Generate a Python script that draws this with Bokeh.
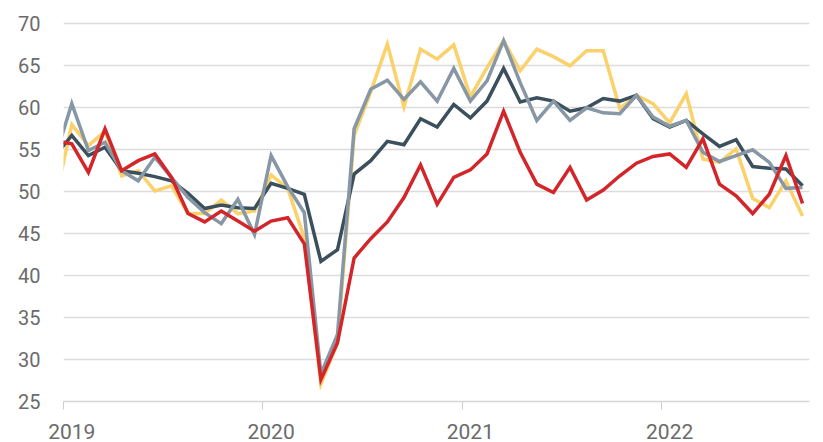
from bokeh.plotting import figure
from bokeh.models import Range1d, FixedTicker, ColumnDataSource
from bokeh.embed import file_html
from bokeh.resources import INLINE

# Monthly values, Dec 2018 .. Sep 2022 (month index -1 .. 44, plotted at mid-month)
month_index = list(range(-1, 45))

dark = [54.3, 56.7, 54.3, 55.3, 52.5, 52.2, 51.8, 51.3, 49.8, 48.0, 48.4, 48.1, 48.0,
        51.0, 50.4, 49.7, 41.7, 43.1, 52.1, 53.7, 56.0, 55.6, 58.7, 57.7, 60.4,
        58.8, 60.8, 64.7, 60.7, 61.2, 60.8, 59.6, 60.0, 61.1, 60.8, 61.5, 58.7,
        57.7, 58.5, 56.9, 55.4, 56.2, 53.0, 52.8, 52.7, 50.7]

gray = [54.1, 60.5, 54.9, 55.9, 52.5, 51.3, 54.1, 51.7, 49.3, 47.5, 46.2, 49.1, 44.9,
        54.3, 50.6, 47.5, 28.3, 33.0, 57.5, 62.2, 63.3, 61.0, 63.1, 60.8, 64.7,
        60.8, 63.2, 68.0, 63.0, 58.5, 60.8, 58.5, 60.0, 59.4, 59.3, 61.5, 58.9,
        57.8, 58.5, 54.7, 53.6, 54.3, 55.0, 53.5, 50.4, 50.5]

yellow = [49.0, 58.0, 55.5, 57.2, 51.9, 52.5, 50.1, 50.7, 47.4, 47.4, 49.0, 47.4, 47.7,
          52.0, 50.4, 44.5, 27.1, 32.0, 56.7, 61.9, 67.6, 60.1, 67.0, 65.8, 67.5,
          61.3, 64.8, 68.0, 64.4, 67.0, 66.1, 65.0, 66.8, 66.8, 59.9, 61.5, 60.5,
          58.2, 61.7, 53.9, 53.5, 55.1, 49.2, 48.1, 51.3, 47.1]

red = [56.1, 55.7, 52.3, 57.5, 52.5, 53.7, 54.5, 51.7, 47.4, 46.4, 47.7, 46.5, 45.3,
       46.5, 46.9, 43.8, 27.6, 32.0, 42.1, 44.4, 46.4, 49.3, 53.2, 48.5, 51.7,
       52.6, 54.5, 59.6, 54.7, 50.9, 49.9, 52.9, 49.0, 50.2, 51.9, 53.4, 54.2,
       54.5, 52.9, 56.3, 50.9, 49.5, 47.4, 49.7, 54.3, 48.6]

year_labels = ["2019", "2020", "2021", "2022"]
year_starts = [0, 12, 24, 36]
y_ticks = [25, 30, 35, 40, 45, 50, 55, 60, 65, 70]

x_mid = [m + 0.5 for m in month_index]
src = ColumnDataSource(dict(x=x_mid, dark=dark, gray=gray, yellow=yellow, red=red))

p = figure(width=823, height=442, output_backend="svg", toolbar_location=None,
           x_range=Range1d(0, 44.92), y_range=Range1d(25, 71),
           min_border_left=63, min_border_right=14, min_border_top=15, min_border_bottom=41,
           background_fill_color="white", border_fill_color="white")
p.outline_line_color = None

# grid
p.xgrid.grid_line_color = None
p.ygrid.ticker = FixedTicker(ticks=y_ticks)
p.ygrid.grid_line_color = "#dcdcdc"
p.ygrid.grid_line_width = 1.5

# y axis
p.yaxis.ticker = FixedTicker(ticks=y_ticks)
p.yaxis.axis_line_color = None
p.yaxis.major_tick_line_color = None
p.yaxis.minor_tick_line_color = None
p.yaxis.major_tick_out = 0
p.yaxis.major_tick_in = 0
p.yaxis.major_label_standoff = 23
p.yaxis.major_label_text_font = "Roboto"
p.yaxis.major_label_text_font_size = "20px"
p.yaxis.major_label_text_color = "#6b6b6b"

# x axis: labels at mid-January, tick marks at year starts
p.xaxis.ticker = FixedTicker(ticks=[s + 0.5 for s in year_starts], minor_ticks=year_starts)
p.xaxis.major_label_overrides = {s + 0.5: lab for s, lab in zip(year_starts, year_labels)}
p.xaxis.axis_line_color = "#d6d6d6"
p.xaxis.axis_line_width = 1.5
p.xaxis.major_tick_line_color = None
p.xaxis.major_tick_out = 0
p.xaxis.major_tick_in = 0
p.xaxis.minor_tick_line_color = "#cccccc"
p.xaxis.minor_tick_line_width = 1
p.xaxis.minor_tick_out = 8
p.xaxis.minor_tick_in = 0
p.xaxis.major_label_standoff = 14
p.xaxis.major_label_text_font = "Roboto"
p.xaxis.major_label_text_font_size = "21px"
p.xaxis.major_label_text_color = "#6b6b6b"

lw = 3.5
p.line("x", "yellow", source=src, line_color="#fbd16c", line_width=lw, line_join="miter")
p.line("x", "dark", source=src, line_color="#3b505c", line_width=lw, line_join="miter")
p.line("x", "gray", source=src, line_color="#8797a5", line_width=lw, line_join="miter")
p.line("x", "red", source=src, line_color="#d3262b", line_width=lw, line_join="miter")

open("out.html", "w").write(file_html(p, INLINE))
